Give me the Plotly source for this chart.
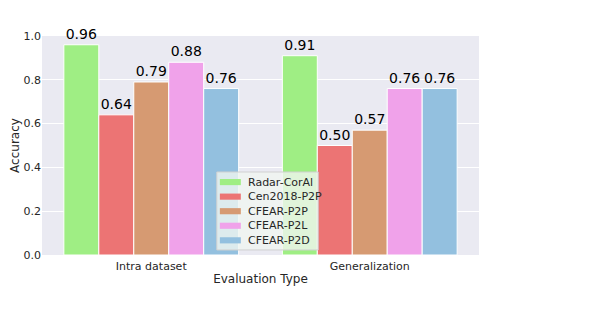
import plotly.graph_objects as go

categories = ["Intra dataset", "Generalization"]
methods = ["Radar-CorAl", "Cen2018-P2P", "CFEAR-P2P", "CFEAR-P2L", "CFEAR-P2D"]
accuracy = [
    [0.96, 0.91],
    [0.64, 0.50],
    [0.79, 0.57],
    [0.88, 0.76],
    [0.76, 0.76],
]
colors = ["#9FEE84", "#EC7474", "#D69A72", "#F0A2EA", "#93C0DF"]

fig = go.Figure()
for name, vals, col in zip(methods, accuracy, colors):
    fig.add_bar(
        x=categories, y=vals, name=name,
        marker=dict(color=col, line=dict(color="white", width=1)),
        texttemplate="%{y:.2f}", textposition="outside",
        textfont=dict(size=14, color="black"),
        cliponaxis=False,
    )

# legend drawn by hand so the rows are as tight as matplotlib's
fig.add_shape(type="rect", xref="paper", yref="paper",
              x0=0.400, x1=0.632, y0=0.023, y1=0.379,
              fillcolor="rgba(240,245,240,0.8)", line=dict(color="#D0D0D0", width=1),
              layer="above")
row_y = 0.333
for name, col in zip(methods, colors):
    fig.add_shape(type="rect", xref="paper", yref="paper",
                  x0=0.407, x1=0.455, y0=row_y - 0.014, y1=row_y + 0.014,
                  fillcolor=col, line=dict(width=0), layer="above")
    fig.add_annotation(text=name, xref="paper", yref="paper", x=0.467, y=row_y,
                       xanchor="left", yanchor="middle", showarrow=False,
                       font=dict(size=11, color="#262626"))
    row_y -= 0.0665

fig.update_layout(
    width=590, height=328,
    margin=dict(l=34, r=119, t=28, b=81, autoexpand=False),
    paper_bgcolor="white", plot_bgcolor="#EAEAF2",
    font=dict(family="DejaVu Sans", size=11, color="#262626"),
    barmode="group", bargap=0.2, bargroupgap=0,
    showlegend=False,
    uniformtext=dict(minsize=14, mode="show"),
)
fig.update_xaxes(
    title=dict(text="Evaluation Type", font=dict(size=12), standoff=2),
    showgrid=False, ticks="", tickfont=dict(size=11), automargin=False,
    ticklabelstandoff=3,
)
fig.update_yaxes(
    title=dict(text="Accuracy", font=dict(size=12), standoff=5),
    range=[0, 1.0], dtick=0.2, tickformat=".1f",
    gridcolor="white", gridwidth=1, zeroline=False, ticks="",
    tickfont=dict(size=11), automargin=False,
)

fig.write_html("out.html")
